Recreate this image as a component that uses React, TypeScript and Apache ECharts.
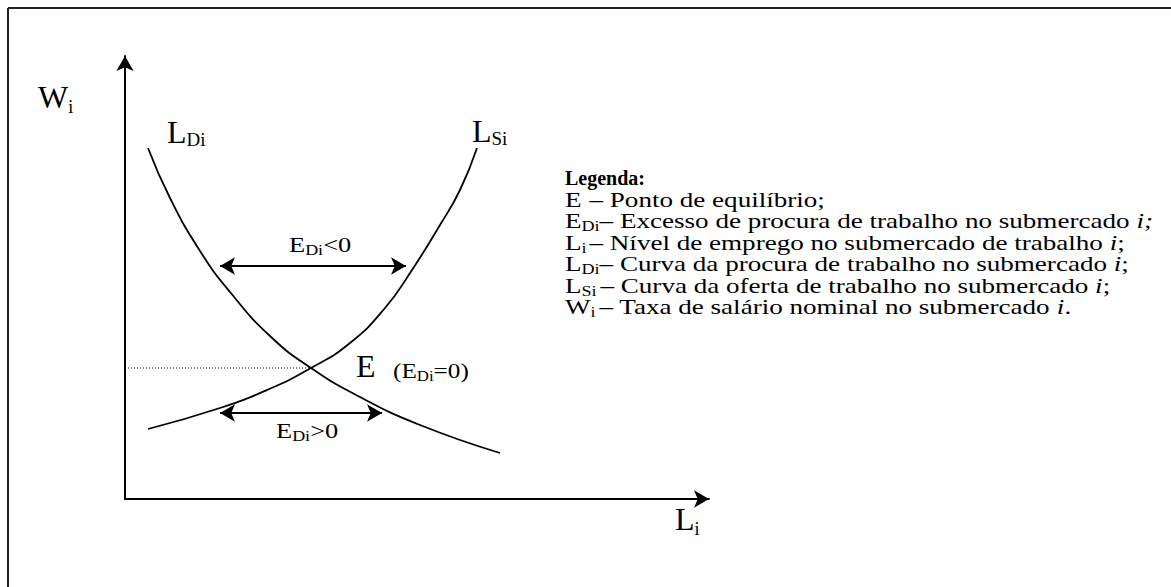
import React, { useEffect, useRef } from "react";
import * as echarts from "echarts";

// ---- data (axis units: x = employment L_i, y = wage W_i) ----
const demandX = [23, 45, 75, 105, 145, 186, 235, 295, 375];
const demandY = [351, 301, 248, 207, 163, 131, 102, 74, 46];
const supplyX = [23, 95, 142, 186, 225, 260, 287, 315, 335, 352];
const supplyY = [70, 91, 109, 131, 156, 191, 229, 274, 309, 351];
const equilibrium = [186, 131];
const wageLineStart = 3;
// double arrows: [fromX, toX, y]
const excessNegative = [95, 281, 233];
const excessPositive = [95, 257, 86];
const axisMaxX = 584;
const axisMaxY = 443;

const legendSymbols = ["E", "E", "L", "L", "L", "W"];
const legendSubscripts = ["", "Di", "i", "Di", "Si", "i"];
const legendDescriptions = [
  "– Ponto de equilíbrio;",
  "– Excesso de procura de trabalho no submercado",
  "– Nível de emprego no submercado de trabalho",
  "– Curva da procura de trabalho no submercado",
  "– Curva da oferta de trabalho no submercado",
  "– Taxa de salário nominal no submercado",
];
const legendIndex = ["", "i;", "i", "i", "i", "i"];
const legendEnd = ["", "", ";", ";", ";", "."];

const FAMILY = "Liberation Serif";

type Part = { t: string; s: number; dy?: number; it?: boolean; b?: boolean; gap?: number; at?: number };

let measureCtx: CanvasRenderingContext2D | null = null;
function measure(text: string, font: string): number {
  if (!measureCtx) measureCtx = document.createElement("canvas").getContext("2d");
  if (!measureCtx) return text.length * 8;
  measureCtx.font = font;
  return measureCtx.measureText(text).width;
}

function textRow(x: number, baseline: number, parts: Part[], scaleX = 1): any {
  const children: any[] = [];
  let cx = 0;
  for (const p of parts) {
    if (!p.t) continue;
    if (p.at != null) cx = Math.max(cx, p.at);
    cx += p.gap || 0;
    const font = `${p.it ? "italic " : ""}${p.b ? "bold " : ""}${p.s}px "${FAMILY}"`;
    children.push({
      type: "text",
      x: cx,
      y: (p.dy || 0) - 0.34 * p.s,
      silent: true,
      style: {
        text: p.t,
        fontSize: p.s,
        fontFamily: FAMILY,
        fontStyle: p.it ? "italic" : "normal",
        fontWeight: p.b ? "bold" : "normal",
        fill: "#000",
        textAlign: "left",
        textVerticalAlign: "middle",
        align: "left",
        verticalAlign: "middle",
      },
    });
    cx += measure(p.t, font);
  }
  return { type: "group", x, y: baseline, scaleX, children };
}

function zip(xs: number[], ys: number[]) {
  return xs.map((x, i) => [x, ys[i]]);
}

export default function App() {
  const ref = useRef<HTMLDivElement>(null);
  useEffect(() => {
    if (!ref.current) return;
    const chart = echarts.init(ref.current, undefined, { renderer: "svg" });
    const arrowSize = [13, 15];
    const arrowLine = (a: number[]) => [{ coord: [a[0], a[2]] }, { coord: [a[1], a[2]] }];
    const axisCommon = {
      type: "value",
      axisLine: {
        show: true,
        onZero: false,
        symbol: ["none", "arrow"],
        symbolSize: arrowSize,
        lineStyle: { color: "#000", width: 2 },
      },
      axisTick: { show: false },
      axisLabel: { show: false },
      splitLine: { show: false },
    };
    const curveStyle = { color: "#000", width: 1.8 };

    const graphics: any[] = [
      { type: "line", silent: true, shape: { x1: 8, y1: 8, x2: 1171, y2: 8 }, style: { stroke: "#222", lineWidth: 2 } },
      { type: "line", silent: true, shape: { x1: 8, y1: 8, x2: 8, y2: 587 }, style: { stroke: "#222", lineWidth: 2 } },
      textRow(38, 108, [{ t: "W", s: 32 }, { t: "i", s: 18, dy: 5 }]),
      textRow(167, 143, [{ t: "L", s: 32 }, { t: "Di", s: 19, dy: 3 }]),
      textRow(472, 142, [{ t: "L", s: 32 }, { t: "Si", s: 19, dy: 3 }]),
      textRow(675, 530, [{ t: "L", s: 32 }, { t: "i", s: 18, dy: 5 }]),
      textRow(356, 377, [{ t: "E", s: 32 }]),
      textRow(393, 378, [{ t: "(E", s: 21 }, { t: "Di", s: 14, dy: 3 }, { t: "=0)", s: 21 }], 1.2),
      textRow(289, 252, [{ t: "E", s: 22 }, { t: "Di", s: 15, dy: 3 }, { t: "<0", s: 22 }], 1.2),
      textRow(276, 438, [{ t: "E", s: 22 }, { t: "Di", s: 15, dy: 3 }, { t: ">0", s: 22 }], 1.2),
      textRow(565, 185, [{ t: "Legenda:", s: 20, b: true }], 1.0),
    ];
    const dashAt = [19, 0, 19, 0, 0, 0];
    const dashGap = [0, 0, 0, 0, 3, 3];
    legendSymbols.forEach((sym, k) => {
      graphics.push(
        textRow(
          565,
          185 + 21.5 * (k + 1),
          [
            { t: sym, s: 21 },
            { t: legendSubscripts[k], s: 14, dy: 3 },
            { t: legendDescriptions[k], s: 21, at: dashAt[k], gap: dashGap[k] },
            { t: legendIndex[k], s: 21, it: true, gap: 5 },
            { t: legendEnd[k], s: 21 },
          ],
          1.29
        )
      );
    });

    chart.setOption({
      animation: false,
      backgroundColor: "#fff",
      grid: { left: 125, top: 56, width: axisMaxX, height: axisMaxY },
      xAxis: { ...axisCommon, min: 0, max: axisMaxX },
      yAxis: { ...axisCommon, min: 0, max: axisMaxY },
      series: [
        {
          name: "LDi",
          type: "line",
          data: zip(demandX, demandY),
          smooth: 0.5,
          showSymbol: false,
          silent: true,
          lineStyle: curveStyle,
        },
        {
          name: "LSi",
          type: "line",
          data: zip(supplyX, supplyY),
          smooth: 0.5,
          showSymbol: false,
          silent: true,
          lineStyle: curveStyle,
        },
        {
          name: "Wage",
          type: "line",
          data: [
            [wageLineStart, equilibrium[1]],
            [equilibrium[0], equilibrium[1]],
          ],
          showSymbol: false,
          silent: true,
          lineStyle: { color: "#000", width: 1, type: [1, 2] },
          markLine: {
            silent: true,
            symbol: ["arrow", "arrow"],
            symbolSize: arrowSize,
            label: { show: false },
            emphasis: { disabled: true },
            lineStyle: { type: "solid", color: "#000", width: 2 },
            data: [arrowLine(excessNegative), arrowLine(excessPositive)],
          },
        },
      ],
      graphic: graphics,
    });
    return () => chart.dispose();
  }, []);
  return (
    <div
      ref={ref}
      style={{ position: "absolute", left: 0, top: 0, width: 1171, height: 587, background: "#fff" }}
    />
  );
}
